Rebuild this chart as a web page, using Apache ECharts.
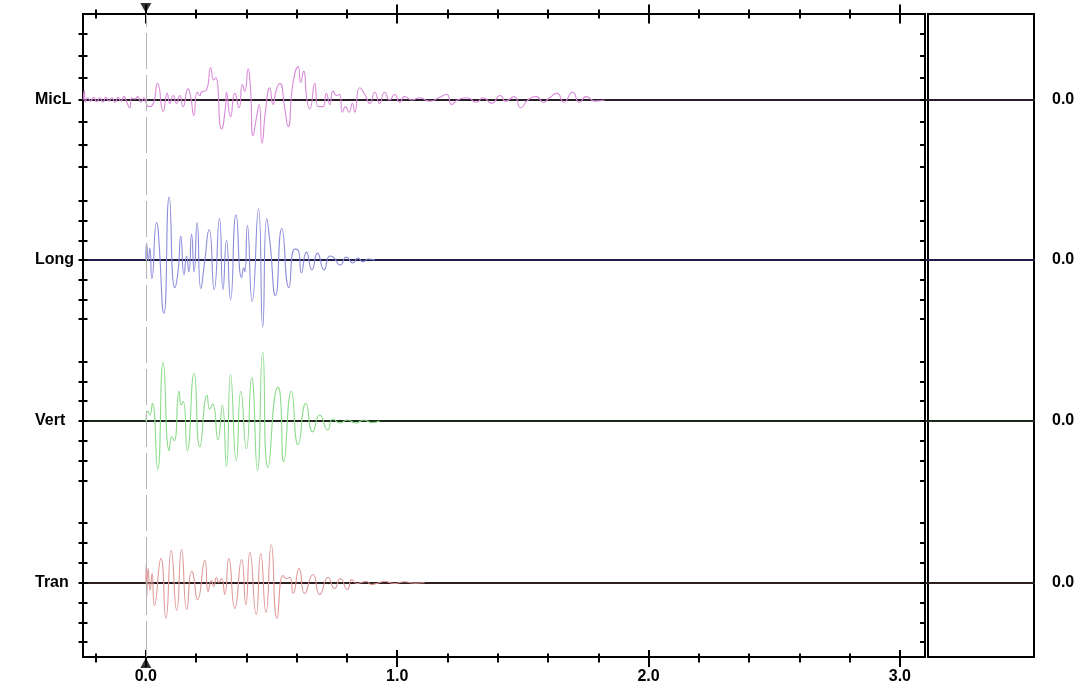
<!DOCTYPE html>
<html>
<head>
<meta charset="utf-8">
<script src="https://cdn.jsdelivr.net/npm/echarts@6/dist/echarts.min.js"></script>
<style>
  html, body { margin: 0; padding: 0; background: #ffffff; }
  #chart { width: 1086px; height: 688px; }
</style>
</head>
<body>
<div id="chart"></div>
<script>
// ---- data -------------------------------------------------------------
const CHANNELS = ['MicL', 'Long', 'Vert', 'Tran'];
const ZERO_LABELS = ['0.0', '0.0', '0.0', '0.0'];
const TIME_MAJOR = [0, 1, 2, 3];
const TIME_MINOR = [-0.2, 0.2, 0.4, 0.6, 0.8, 1.2, 1.4, 1.6, 1.8, 2.2, 2.4, 2.6, 2.8];
const TIME_RANGE = [-0.25, 3.1];
const AMP_RANGE = [-3, 3];
const CURSOR_T = 0;

// [time (s), amplitude (divisions)]
const miclWave = [
  [-0.249, 0], [-0.245, 0.45], [-0.241, -0.1], [-0.231, 0.1], [-0.219, -0.05], [-0.207, 0.12],
  [-0.195, -0.08], [-0.183, 0.1], [-0.171, -0.1], [-0.159, 0.12], [-0.147, -0.05], [-0.135, 0.1],
  [-0.123, -0.1], [-0.111, 0.12], [-0.099, -0.05], [-0.087, 0.15], [-0.076, -0.1], [-0.064, -0.35],
  [-0.056, 0.1], [-0.044, 0.05], [-0.032, 0.15], [-0.020, -0.1], [-0.008, 0.1], [0.000, -0.1],
  [0.012, -0.3], [0.028, -0.2], [0.047, 0.75], [0.069, -0.5], [0.085, 0.3], [0.095, -0.15],
  [0.109, 0.2], [0.122, -0.15], [0.135, 0.2], [0.148, -0.3], [0.168, 0.5], [0.179, 0.1],
  [0.191, -0.7], [0.204, 0.35], [0.215, 0.2], [0.221, 0.35], [0.241, 0.45], [0.258, 1.45],
  [0.270, 0.9], [0.278, 1.0], [0.301, -1.3], [0.317, -0.3], [0.321, 0.35], [0.337, -0.75],
  [0.354, 0.3], [0.371, -0.35], [0.384, 0.7], [0.394, 0.4], [0.407, 1.4], [0.416, 0.6],
  [0.427, -1.6], [0.440, -0.8], [0.451, -0.2], [0.462, -1.95], [0.477, -0.4], [0.493, 0.55],
  [0.506, -0.2], [0.519, 0.45], [0.533, 0.75], [0.553, -0.4], [0.566, -1.2], [0.586, 0.8],
  [0.606, 1.5], [0.616, 0.8], [0.628, 1.3], [0.641, 0.0], [0.652, -0.4], [0.672, 0.75],
  [0.685, -0.3], [0.705, -0.3], [0.718, 0.3], [0.732, -0.2], [0.745, 0.4], [0.758, 0.2],
  [0.771, 0.25], [0.782, -0.55], [0.795, -0.3], [0.808, -0.55], [0.822, -0.15], [0.831, -0.55],
  [0.851, 0.55], [0.871, 0.25], [0.891, -0.15], [0.911, 0.35], [0.930, -0.15], [0.950, 0.35],
  [0.970, 0.0], [0.990, 0.25], [1.010, -0.1], [1.030, 0.15], [1.058, 0.0], [1.089, 0.1],
  [1.129, -0.05], [1.165, 0.1], [1.197, 0.25], [1.217, -0.2], [1.240, 0.0], [1.280, 0.1],
  [1.314, -0.1], [1.342, 0.1], [1.376, -0.15], [1.410, 0.2], [1.431, -0.05], [1.465, 0.15],
  [1.492, -0.35], [1.520, 0.0], [1.554, 0.15], [1.581, -0.1], [1.606, 0.1], [1.636, 0.3],
  [1.663, -0.1], [1.698, 0.35], [1.725, -0.1], [1.752, 0.15], [1.787, -0.05], [1.825, 0.0]
];

const longWave = [
  [0.000, 0], [0.003, 0.85], [0.010, 0], [0.016, 0.6], [0.024, -0.95], [0.043, 1.9],
  [0.049, 1.5], [0.072, -2.7], [0.093, 3.2], [0.115, -1.4], [0.128, -0.6], [0.139, 1.2],
  [0.152, -0.75], [0.162, 0.2], [0.171, -0.6], [0.182, 1.3], [0.192, -0.6], [0.204, 1.9],
  [0.219, -1.45], [0.232, -0.3], [0.252, 1.55], [0.272, -1.5], [0.293, 2.1], [0.307, -1.5],
  [0.321, 1.0], [0.337, -2.0], [0.359, 2.3], [0.381, -0.9], [0.390, -0.4], [0.394, -0.6],
  [0.404, 1.75], [0.423, -2.1], [0.448, 2.6], [0.465, -3.4], [0.481, 2.1], [0.493, 1.0],
  [0.516, -1.8], [0.541, 1.6], [0.569, -1.4], [0.592, 0.55], [0.606, 0.5], [0.619, -0.65],
  [0.639, 0.4], [0.661, -0.5], [0.683, 0.35], [0.709, -0.5], [0.732, 0.2], [0.745, 0.15],
  [0.773, -0.25], [0.798, 0.15], [0.824, -0.15], [0.844, 0.1], [0.864, -0.1], [0.884, 0.05],
  [0.911, 0]
];

const vertWave = [
  [0.000, 0], [0.008, 0.5], [0.016, 0.3], [0.026, 0.9], [0.047, -2.45], [0.069, 2.95],
  [0.093, -1.5], [0.103, -0.8], [0.113, -1.0], [0.132, 1.5], [0.141, 0.8], [0.149, 1.0],
  [0.165, -1.5], [0.192, 2.4], [0.215, -1.3], [0.244, 1.3], [0.254, 0.6], [0.266, 0.85],
  [0.287, -0.95], [0.304, 0.8], [0.321, -2.3], [0.337, 2.35], [0.360, -2.0], [0.378, 1.5],
  [0.400, -1.4], [0.421, 2.2], [0.444, -2.5], [0.465, 3.5], [0.486, -2.35], [0.526, 1.7],
  [0.535, 1.3], [0.549, -2.05], [0.579, 1.5], [0.606, -1.2], [0.637, 0.9], [0.664, -0.55],
  [0.692, 0.3], [0.724, -0.45], [0.744, 0.1], [0.771, -0.1], [0.803, 0.05], [0.835, -0.1],
  [0.867, 0.05], [0.899, -0.08], [0.930, 0]
];

const tranWave = [
  [0.000, 0], [0.001, 0.9], [0.004, -0.7], [0.009, 0.7], [0.017, -0.4], [0.025, 0.45],
  [0.034, -1.15], [0.060, 1.2], [0.080, -1.8], [0.101, 1.6], [0.123, -1.4], [0.142, 1.65],
  [0.163, -1.35], [0.182, 0.55], [0.188, 0.45], [0.206, -0.85], [0.235, 1.1], [0.248, -0.45],
  [0.261, 0.1], [0.270, -0.2], [0.281, 0.25], [0.290, 0], [0.301, 0.2], [0.314, -0.6],
  [0.330, 1.2], [0.354, -1.3], [0.381, 1.15], [0.398, -1.1], [0.414, 1.5], [0.439, -1.6],
  [0.457, 1.45], [0.478, -1.5], [0.499, 1.9], [0.522, -1.8], [0.546, 0.35], [0.559, 0.2],
  [0.573, 0.25], [0.586, -0.55], [0.610, 0.7], [0.632, -0.55], [0.665, 0.4], [0.692, -0.6],
  [0.725, 0.25], [0.751, -0.3], [0.774, 0.2], [0.802, -0.35], [0.820, 0.15], [0.838, -0.05],
  [0.878, 0.05], [0.897, -0.1], [0.918, -0.05], [0.950, 0.05], [0.990, -0.05], [1.030, 0.04],
  [1.070, -0.03], [1.109, 0]
];

const WAVES = [miclWave, longWave, vertWave, tranWave];

// ---- styling / layout ---------------------------------------------------
const WAVE_COLORS = ['#d98ad9', '#8c8cdc', '#8cdc8c', '#df9898'];
const BASE_COLORS = ['#2a1d2a', '#1e1e48', '#1c2a1c', '#2e1e1e'];
const FONT = 'Liberation Sans, Arial, Helvetica, sans-serif';

const FRAME = { left: 83, top: 14, right: 925, bottom: 657 };
const PANEL = { left: 928, right: 1034 };
const BANDS = [
  { base: 100, step: 22.2 },
  { base: 260, step: 19.7 },
  { base: 421, step: 19.8 },
  { base: 582.5, step: 19.9 }
];
const W = 1086, H = 688;

const frameW = FRAME.right - FRAME.left;
const chanW = PANEL.right - FRAME.left;
// channel strips reach across the side panel, so extend their time range to keep the same scale
const chanMax = TIME_RANGE[0] + (TIME_RANGE[1] - TIME_RANGE[0]) * chanW / frameW;

const black = '#000000';
const labelStyle = { color: black, fontFamily: FONT, fontWeight: 'bold', fontSize: 16 };

const grid = [
  { left: FRAME.left, top: FRAME.top, right: W - FRAME.right, bottom: H - FRAME.bottom,
    show: true, borderColor: black, borderWidth: 2, backgroundColor: 'transparent',
    containLabel: false, outerBoundsMode: 'none' },
  { left: PANEL.left, top: FRAME.top, right: W - PANEL.right, bottom: H - FRAME.bottom,
    show: true, borderColor: black, borderWidth: 2, backgroundColor: 'transparent',
    containLabel: false, outerBoundsMode: 'none' }
];
BANDS.forEach(b => {
  grid.push({ left: FRAME.left, width: chanW, top: b.base - 3 * b.step, height: 6 * b.step,
    show: false, containLabel: false, outerBoundsMode: 'none' });
});

function timeAxis(extra) {
  return Object.assign({
    type: 'value', gridIndex: 0, min: TIME_RANGE[0], max: TIME_RANGE[1],
    axisLine: { show: false, onZero: false },
    splitLine: { show: false },
    axisLabel: { show: false },
    axisTick: { show: false }
  }, extra);
}

const xAxis = [
  timeAxis({ show: false }),
  // bottom: major ticks + labels
  timeAxis({ position: 'bottom', offset: -7,
    axisTick: { show: true, customValues: TIME_MAJOR, length: 17, lineStyle: { color: black, width: 2 } },
    axisLabel: Object.assign({ show: true, customValues: TIME_MAJOR, margin: 19,
      formatter: v => v.toFixed(1) }, labelStyle) }),
  // bottom: minor ticks
  timeAxis({ position: 'bottom', offset: -3.5,
    axisTick: { show: true, customValues: TIME_MINOR, length: 9, lineStyle: { color: black, width: 2 } } }),
  // top: major ticks
  timeAxis({ position: 'top', offset: -9.5,
    axisTick: { show: true, customValues: TIME_MAJOR, length: 19, lineStyle: { color: black, width: 2 } } }),
  // top: minor ticks
  timeAxis({ position: 'top', offset: -4.5,
    axisTick: { show: true, customValues: TIME_MINOR, length: 9, lineStyle: { color: black, width: 2 } } }),
  // side panel (frame only)
  { type: 'value', gridIndex: 1, min: 0, max: 1, show: false }
];

const yAxis = [
  { type: 'value', gridIndex: 0, min: 0, max: 1, show: false },
  { type: 'value', gridIndex: 1, min: 0, max: 1, show: false }
];

const series = [];

// time-zero cursor: dashed line and the two markers
series.push({
  type: 'scatter', xAxisIndex: 0, yAxisIndex: 0, silent: true, clip: false,
  symbol: 'triangle', symbolSize: [11, 10],
  itemStyle: { color: black },
  data: [
    { value: [CURSOR_T, 1], symbolRotate: 180, symbolOffset: [0, -6] },
    { value: [CURSOR_T, 0], symbolOffset: [0, 6] }
  ],
  markLine: {
    silent: true, symbol: ['none', 'none'], label: { show: false },
    lineStyle: { color: '#b4b4b4', width: 1, type: [36, 6] },
    data: [{ xAxis: CURSOR_T }]
  },
  z: 3
});

CHANNELS.forEach((name, i) => {
  const g = 2 + i;
  const xi = xAxis.length;
  xAxis.push({
    type: 'value', gridIndex: g, min: TIME_RANGE[0], max: chanMax,
    axisLine: { show: true, onZero: true, lineStyle: { color: BASE_COLORS[i], width: 2 } },
    axisTick: { show: false }, axisLabel: { show: false }, splitLine: { show: false }
  });
  const yi = yAxis.length;
  // left ticks crossing the frame line, with the channel name
  yAxis.push({
    type: 'value', gridIndex: g, min: AMP_RANGE[0], max: AMP_RANGE[1], interval: 1,
    position: 'left', offset: -4.5,
    axisLine: { show: false, onZero: false },
    axisTick: { show: true, length: 9, lineStyle: { color: black, width: 2 } },
    axisLabel: Object.assign({ show: true, customValues: [0], formatter: () => name,
      align: 'left', margin: 52.5 }, labelStyle),
    splitLine: { show: false }
  });
  // inner ticks along the right edge of the trace area
  yAxis.push({
    type: 'value', gridIndex: g, min: AMP_RANGE[0], max: AMP_RANGE[1], interval: 1,
    position: 'right', offset: -(PANEL.right - FRAME.right),
    axisLine: { show: false, onZero: false },
    axisTick: { show: true, inside: true, length: 5, lineStyle: { color: black, width: 2 } },
    axisLabel: { show: false },
    splitLine: { show: false }
  });
  // zero-level readout beside the side panel
  yAxis.push({
    type: 'value', gridIndex: g, min: AMP_RANGE[0], max: AMP_RANGE[1], interval: 1,
    position: 'right', offset: 0,
    axisLine: { show: false, onZero: false }, axisTick: { show: false },
    axisLabel: Object.assign({ show: true, customValues: [0], formatter: () => ZERO_LABELS[i],
      align: 'left', margin: 18 }, labelStyle),
    splitLine: { show: false }
  });
  series.push({
    type: 'line', name: name, xAxisIndex: xi, yAxisIndex: yi,
    data: WAVES[i], showSymbol: false, smooth: 0.6, clip: false, silent: true,
    lineStyle: { color: WAVE_COLORS[i], width: 1.1 }, z: 4
  });
});

const chart = echarts.init(document.getElementById('chart'), null, { renderer: 'canvas' });
chart.setOption({
  backgroundColor: '#ffffff',
  animation: false,
  grid: grid,
  xAxis: xAxis,
  yAxis: yAxis,
  series: series
});
</script>
</body>
</html>
